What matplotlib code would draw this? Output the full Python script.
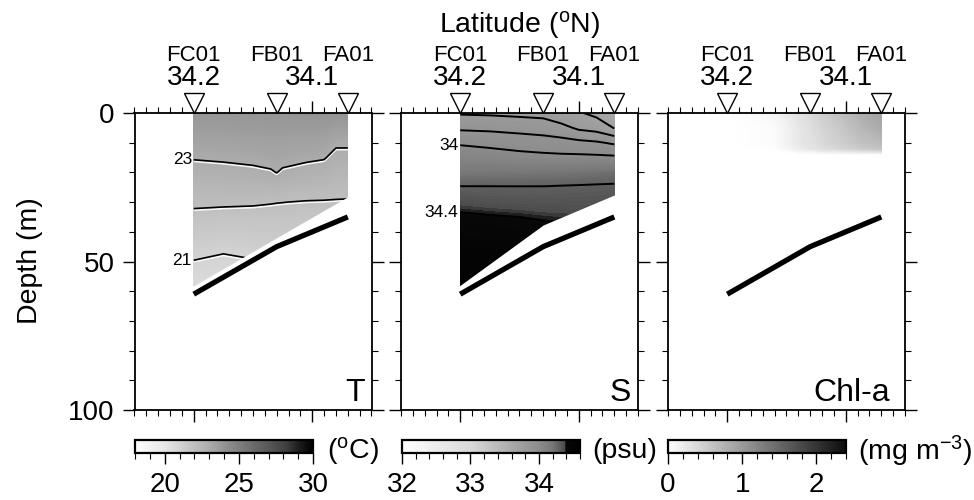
import numpy as np
import matplotlib
matplotlib.use("Agg")
import matplotlib.pyplot as plt
import matplotlib.patheffects as pe
from matplotlib.colors import LinearSegmentedColormap, Normalize
from matplotlib.cm import ScalarMappable
from matplotlib.ticker import MultipleLocator, FixedLocator, FixedFormatter
from matplotlib.transforms import blended_transform_factory

plt.rcParams['font.family'] = ['Liberation Sans', 'DejaVu Sans']
plt.rcParams['mathtext.fontset'] = 'custom'
plt.rcParams['mathtext.rm'] = 'Liberation Sans'
plt.rcParams['mathtext.it'] = 'Liberation Sans:italic'
plt.rcParams['mathtext.bf'] = 'Liberation Sans:bold'

# ---- stations along the transect ----
station_names = ["FC01", "FB01", "FA01"]
station_lat = [34.20, 34.13, 34.07]
bottom_depth = [61, 45, 35]          # sea floor (m)
temp_limit = [58.2, 42.0, 28.2]      # deepest sampled depth, temperature
sal_limit = [58.0, 37.7, 27.6]       # deepest sampled depth, salinity

depth_rows = [0, 5, 10, 15, 20, 25, 30, 35, 40, 45, 50, 55, 60]

# ---- temperature (deg C), one profile per latitude ----
temp_lat = [34.20, 34.175, 34.15, 34.135, 34.13, 34.125, 34.105, 34.09, 34.08, 34.07]
temp_profiles = [
    [23.90, 23.615, 23.330, 23.046, 22.742, 22.436, 22.129, 21.833, 21.546, 21.259, 20.976, 20.738, 20.50],
    [23.90, 23.632, 23.364, 23.096, 22.784, 22.446, 22.108, 21.779, 21.455, 21.130, 20.862, 20.631, 20.40],
    [23.95, 23.688, 23.425, 23.163, 22.853, 22.465, 22.078, 21.778, 21.500, 21.222, 20.955, 20.727, 20.50],
    [23.95, 23.704, 23.458, 23.212, 22.937, 22.486, 22.036, 21.765, 21.510, 21.255, 21.000, 20.750, 20.50],
    [23.95, 23.716, 23.482, 23.248, 23.014, 22.525, 22.020, 21.758, 21.505, 21.253, 21.000, 20.750, 20.50],
    [23.95, 23.700, 23.450, 23.200, 22.910, 22.459, 22.009, 21.760, 21.500, 21.250, 21.000, 20.750, 20.50],
    [24.00, 23.706, 23.412, 23.118, 22.756, 22.350, 21.965, 21.715, 21.465, 21.215, 20.970, 20.720, 20.50],
    [24.00, 23.684, 23.367, 23.051, 22.684, 22.308, 21.955, 21.705, 21.455, 21.205, 20.960, 20.710, 20.46],
    [24.00, 23.558, 23.115, 22.791, 22.508, 22.226, 21.950, 21.700, 21.450, 21.200, 20.950, 20.700, 20.45],
    [24.00, 23.558, 23.115, 22.789, 22.503, 22.217, 21.940, 21.690, 21.440, 21.190, 20.940, 20.690, 20.44],
]
temp_levels = [21, 22, 23]
temp_labeled = [21, 23]

# ---- salinity (psu) ----
sal_lat = [34.20, 34.175, 34.15, 34.13, 34.115, 34.10, 34.085, 34.07]
sal_profiles = [
    [33.790, 33.883, 33.987, 34.064, 34.183, 34.309, 34.368, 34.415, 34.447, 34.480, 34.493, 34.507, 34.52],
    [33.785, 33.879, 33.968, 34.058, 34.190, 34.308, 34.359, 34.407, 34.444, 34.480, 34.493, 34.507, 34.52],
    [33.775, 33.870, 33.949, 34.039, 34.193, 34.307, 34.354, 34.400, 34.435, 34.470, 34.487, 34.503, 34.52],
    [33.767, 33.859, 33.940, 34.028, 34.197, 34.307, 34.349, 34.392, 34.427, 34.460, 34.480, 34.500, 34.52],
    [33.717, 33.836, 33.934, 34.023, 34.200, 34.312, 34.350, 34.388, 34.421, 34.450, 34.473, 34.497, 34.52],
    [33.710, 33.781, 33.925, 34.022, 34.207, 34.316, 34.351, 34.386, 34.419, 34.450, 34.473, 34.497, 34.52],
    [33.674, 33.760, 33.912, 34.020, 34.217, 34.320, 34.353, 34.387, 34.419, 34.450, 34.473, 34.497, 34.52],
    [33.600, 33.696, 33.885, 34.017, 34.226, 34.323, 34.355, 34.387, 34.419, 34.450, 34.473, 34.497, 34.52],
]
sal_levels = [33.7, 33.8, 33.9, 34.0, 34.3, 34.4]
sal_labeled = [34.0, 34.4]

# ---- chlorophyll-a (mg m-3) ----
chl_lat = [34.20, 34.16, 34.14, 34.12, 34.10, 34.085, 34.07]
chl_depth = [0, 5, 10, 12, 14, 60]
chl_profiles = [
    [0.00, 0.00, 0.00, 0.00, 0, 0],
    [0.10, 0.04, 0.04, 0.02, 0, 0],
    [0.28, 0.22, 0.22, 0.18, 0, 0],
    [0.48, 0.42, 0.38, 0.33, 0, 0],
    [0.68, 0.58, 0.52, 0.43, 0, 0],
    [0.82, 0.72, 0.62, 0.52, 0, 0],
    [0.92, 0.82, 0.68, 0.58, 0, 0],
]

# ---- grey scales (position along bar, darkness) ----
def grey_map(name, anchors):
    return LinearSegmentedColormap.from_list(
        name, [(p, (1 - d, 1 - d, 1 - d)) for p, d in anchors])

temp_cmap = grey_map("temp", [(0, 0), (0.17, 0.10), (0.42, 0.33), (0.5, 0.42),
                              (0.58, 0.50), (0.85, 0.75), (0.93, 0.90), (1, 1)])
sal_cmap = grey_map("sal", [(0, 0), (0.385, 0.15), (0.673, 0.38), (0.77, 0.45),
                            (0.846, 0.53), (0.885, 0.62), (0.915, 0.70),
                            (0.925, 0.97), (1, 1)])
chl_cmap = grey_map("chl", [(0, 0), (1, 0.95)])

W, H = 974, 500
fig = plt.figure(figsize=(W / 100, H / 100), dpi=100)


def px_axes(left, top, width, height):
    return fig.add_axes([left / W, 1 - (top + height) / H, width / W, height / H])


panel_left = [134.5, 401, 668]
axes = [px_axes(l, 113, 237, 297) for l in panel_left]

white_edge = [pe.SimpleLineShadow(offset=(0, -1.2), shadow_color='white', alpha=0.9),
              pe.Normal()]


def frame(ax, show_y):
    ax.set_xlim(34.25, 34.05)
    ax.set_ylim(100, 0)
    ax.xaxis.set_major_locator(FixedLocator([34.2, 34.1]))
    ax.xaxis.set_major_formatter(FixedFormatter(["34.2", "34.1"]))
    ax.xaxis.set_minor_locator(MultipleLocator(0.01))
    ax.yaxis.set_major_locator(MultipleLocator(50))
    ax.yaxis.set_minor_locator(MultipleLocator(10))
    ax.tick_params(which='both', direction='out', top=True, bottom=True,
                   left=True, right=True, labelbottom=False, labeltop=True,
                   labelleft=show_y, labelright=False)
    ax.tick_params(which='major', length=8.5, width=1.0)
    ax.tick_params(which='minor', length=4.5, width=0.8)
    ax.tick_params(axis='x', which='major', pad=7.5, labelsize=20)
    ax.tick_params(axis='y', which='major', pad=6, labelsize=20)
    for s in ax.spines.values():
        s.set_linewidth(1.3)
    tr = blended_transform_factory(ax.transData, ax.transAxes)
    ax.plot(station_lat, [1.035] * 3, transform=tr, ls='none', marker='v',
            ms=15, mfc='white', mec='black', mew=1.0, clip_on=False, zorder=6)
    for name, lat in zip(station_names, station_lat):
        ax.text(lat, 1.192, name, transform=tr, ha='center', va='center',
                fontsize=16)


def section(ax, lat, depth, profiles, cmap, vmin, vmax, limit, levels,
            labeled, effects, lw):
    field = np.array(profiles).T
    ax.contourf(lat, depth, field, levels=np.linspace(vmin, vmax, 261),
                cmap=cmap, vmin=vmin, vmax=vmax, extend='both', zorder=1)
    if levels:
        cs = ax.contour(lat, depth, field, levels=levels, colors='k',
                        linewidths=lw, zorder=1.2)
        if effects:
            cs.set_path_effects(effects)
    if limit is not None:
        mx = [lat[0] + 0.002] + list(station_lat) + [lat[-1] - 0.002]
        my = [limit[0]] + list(limit) + [limit[-1]]
        ax.fill_between(mx, my, 61, color='white', lw=0, zorder=1.5)
    first = field[:, 0]
    for lev in labeled:
        if first[0] > first[-1]:
            d = np.interp(lev, first[::-1], np.array(depth)[::-1])
        else:
            d = np.interp(lev, first, depth)
        ax.text(lat[0] + 0.0015, d, f"{lev:g}", ha='right', va='center',
                fontsize=12.5, zorder=5)


section(axes[0], temp_lat, depth_rows, temp_profiles, temp_cmap, 18, 30,
        temp_limit, temp_levels, temp_labeled, white_edge, 1.2)
section(axes[1], sal_lat, depth_rows, sal_profiles, sal_cmap, 32, 34.6,
        sal_limit, sal_levels, sal_labeled, None, 1.4)
section(axes[2], chl_lat, chl_depth, chl_profiles, chl_cmap, 0, 2.4,
        None, [], [], None, 1.0)

for i, ax in enumerate(axes):
    frame(ax, i == 0)
    ax.plot(station_lat, bottom_depth, color='k', lw=3.8,
            solid_capstyle='butt', zorder=4)

axes[0].set_yticks([0, 50, 100])
axes[0].set_yticklabels(["0", "50", "100"])

# panel names
for ax, name, xr in zip(axes, ["T", "S", "Chl-a"], [0.972, 0.968, 0.935]):
    ax.text(xr, 0.03, name, transform=ax.transAxes, ha='right',
            va='baseline', fontsize=23, zorder=7)

fig.text(520 / W, 1 - 25 / H, r"Latitude ($^{\rm o}$N)", ha='center',
         va='center', fontsize=20.5)
fig.text(30 / W, 1 - 261 / H, "Depth (m)", rotation=90, ha='center',
         va='center', fontsize=20.5)

# ---- colour bars ----
bars = [
    (135, temp_cmap, 18, 30, [20, 25, 30], 1, r"($^{\rm o}$C)", 327),
    (402, sal_cmap, 32, 34.6, [32, 33, 34], 0.2, "(psu)", 592),
    (668, chl_cmap, 0, 2.4, [0, 1, 2], 0.2, r"(mg m$^{-3}$)", 858),
]
for left, cmap, vmin, vmax, ticks, minor, unit, ux in bars:
    cax = px_axes(left, 440, 178, 13)
    sm = ScalarMappable(norm=Normalize(vmin, vmax), cmap=cmap)
    cb = fig.colorbar(sm, cax=cax, orientation='horizontal')
    cb.set_ticks(ticks)
    cb.set_ticklabels([f"{t:g}" for t in ticks])
    cb.ax.xaxis.set_minor_locator(MultipleLocator(minor))
    cb.outline.set_linewidth(1.6)
    cb.ax.tick_params(which='major', length=8, width=1.0, labelsize=20, pad=6)
    cb.ax.tick_params(which='minor', length=4, width=0.8)
    fig.text(ux / W, 1 - 451 / H, unit, ha='left', va='center', fontsize=20.5)

fig.savefig("out.png", dpi=100)
